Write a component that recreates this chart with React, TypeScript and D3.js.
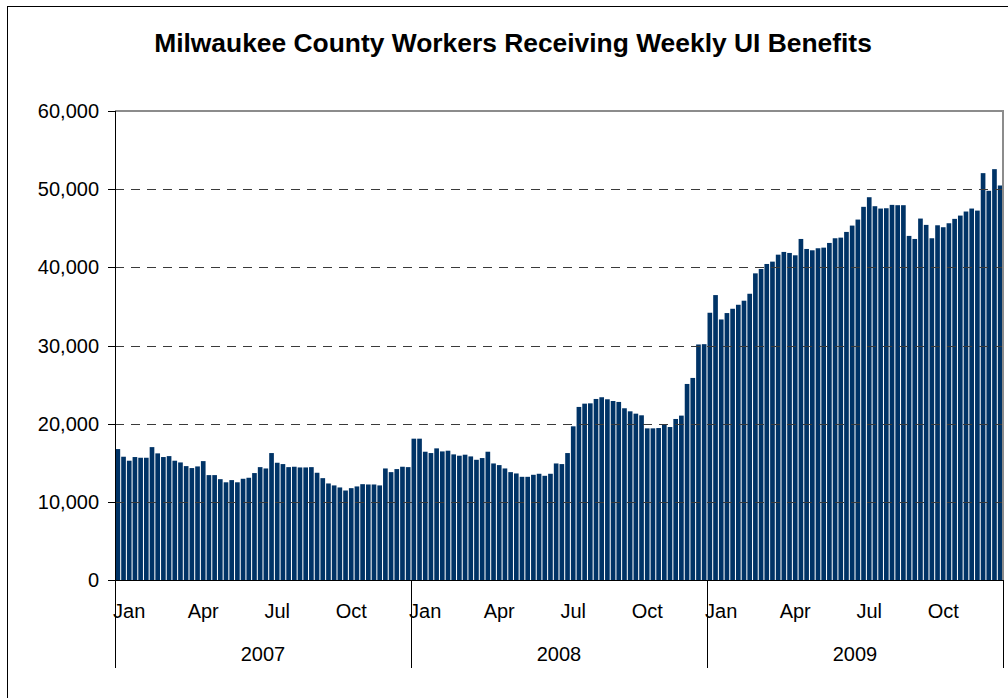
import * as d3 from 'd3';

// Weekly count of Milwaukee County workers receiving UI benefits
const weeks2007 = [
  16750, 15770, 15260, 15730, 15640, 15640, 17000, 16200, 15730, 15850, 15260, 15040, 14570,
  14320, 14530, 15210, 13420, 13420, 12900, 12500, 12780, 12500, 12950, 13080, 13680, 14440,
  14270, 16240, 15000, 14830, 14440, 14490, 14400, 14400, 14440, 13720, 13030, 12350, 12100,
  11840, 11450, 11750, 11970, 12260, 12220, 12220, 12100, 14270, 13800, 14190, 14490, 14440,
];
const weeks2008 = [
  18080, 18080, 16410, 16240, 16840, 16450, 16540, 16070, 15900, 16030, 15810, 15380, 15600,
  16410, 14910, 14700, 14270, 13800, 13630, 13200, 13200, 13460, 13590, 13330, 13590, 14910,
  14830, 16240, 19660, 22140, 22560, 22600, 23160, 23380, 23120, 22900, 22780, 21970, 21580,
  21280, 21070, 19400, 19400, 19440, 19910, 19570, 20600, 21030, 25080, 25850, 30130, 30170,
];
const weeks2009 = [
  34190, 36450, 33330, 34150, 34700, 35210, 35730, 36620, 39230, 39790, 40430, 40730, 41620,
  41970, 41840, 41540, 43630, 42350, 42180, 42440, 42520, 43120, 43720, 43800, 44530, 45340,
  46110, 47740, 48970, 47820, 47520, 47560, 47990, 47950, 47950, 44020, 43630, 46240, 45430,
  43720, 45380, 45130, 45640, 46200, 46620, 47140, 47520, 47260, 52050, 49790, 52560, 50470,
];

const years = ['2007', '2008', '2009'];
const monthLabels = ['Jan', 'Apr', 'Jul', 'Oct'];
const monthWeekIndex = [2, 15, 28, 41];
const yTicks = [0, 10000, 20000, 30000, 40000, 50000, 60000];

const values = [...weeks2007, ...weeks2008, ...weeks2009];
const weeksPerYear = 52;

export default function App() {
  const width = 1008;
  const height = 698;
  const plot = { left: 115, right: 1003, top: 111, bottom: 580 };

  const x = d3
    .scaleBand<number>()
    .domain(values.map((_, i) => i))
    .range([plot.left, plot.right])
    .paddingInner(0.18)
    .paddingOuter(0.09);

  const y = d3.scaleLinear().domain([0, 60000]).range([plot.bottom, plot.top]);

  const yearX = d3
    .scaleLinear()
    .domain([0, years.length])
    .range([plot.left, plot.right]);

  const fmt = d3.format(',');
  const font = 'Liberation Sans, Arial, sans-serif';

  return (
    <svg
      width={width}
      height={height}
      style={{ position: 'absolute', left: 0, top: 0, background: '#fff' }}
      fontFamily={font}
    >
      {/* chart frame */}
      <rect x={7.5} y={6.5} width={1010} height={700} fill="none" stroke="#000" strokeWidth={1} />

      <text x={513} y={52} textAnchor="middle" fontSize={26.4} fontWeight="bold" fill="#000">
        Milwaukee County Workers Receiving Weekly UI Benefits
      </text>

      {/* bars */}
      {values.map((v, i) => (
        <rect
          key={i}
          x={x(i)}
          y={y(v)}
          width={x.bandwidth()}
          height={y(0) - y(v)}
          fill="#003366"
        />
      ))}

      {/* gridlines */}
      {yTicks
        .filter((t) => t > 0 && t < 60000)
        .map((t) => (
          <line
            key={t}
            x1={plot.left}
            x2={plot.right}
            y1={Math.round(y(t)) + 0.5}
            y2={Math.round(y(t)) + 0.5}
            stroke="#3a3a3a"
            strokeDasharray="9,7"
            strokeWidth={1}
          />
        ))}

      {/* plot border (top + right) */}
      <path
        d={`M${plot.left},${plot.top} H${plot.right} V${plot.bottom}`}
        fill="none"
        stroke="#8c8c8c"
        strokeWidth={2}
      />

      {/* y axis */}
      <line x1={plot.left + 0.5} x2={plot.left + 0.5} y1={plot.top} y2={plot.bottom} stroke="#000" />
      {yTicks.map((t) => (
        <g key={t}>
          <line
            x1={plot.left - 7}
            x2={plot.left}
            y1={Math.round(y(t)) + 0.5}
            y2={Math.round(y(t)) + 0.5}
            stroke="#000"
          />
          <text x={99} y={y(t) + 7} textAnchor="end" fontSize={20} fill="#000">
            {fmt(t)}
          </text>
        </g>
      ))}

      {/* category axis */}
      <line x1={plot.left} x2={plot.right} y1={plot.bottom + 0.5} y2={plot.bottom + 0.5} stroke="#000" />
      {d3.range(years.length + 1).map((k) => (
        <line
          key={k}
          x1={Math.round(yearX(k)) + 0.5}
          x2={Math.round(yearX(k)) + 0.5}
          y1={plot.bottom}
          y2={668}
          stroke="#000"
        />
      ))}
      {years.map((yr, k) =>
        monthLabels.map((m, j) => {
          const idx = k * weeksPerYear + monthWeekIndex[j];
          return (
            <text
              key={`${yr}-${m}`}
              x={(x(idx) ?? 0) + x.bandwidth() / 2}
              y={618}
              textAnchor="middle"
              fontSize={20}
              fill="#000"
            >
              {m}
            </text>
          );
        })
      )}
      {years.map((yr, k) => (
        <text
          key={yr}
          x={(yearX(k) + yearX(k + 1)) / 2}
          y={661}
          textAnchor="middle"
          fontSize={20}
          fill="#000"
        >
          {yr}
        </text>
      ))}
    </svg>
  );
}
